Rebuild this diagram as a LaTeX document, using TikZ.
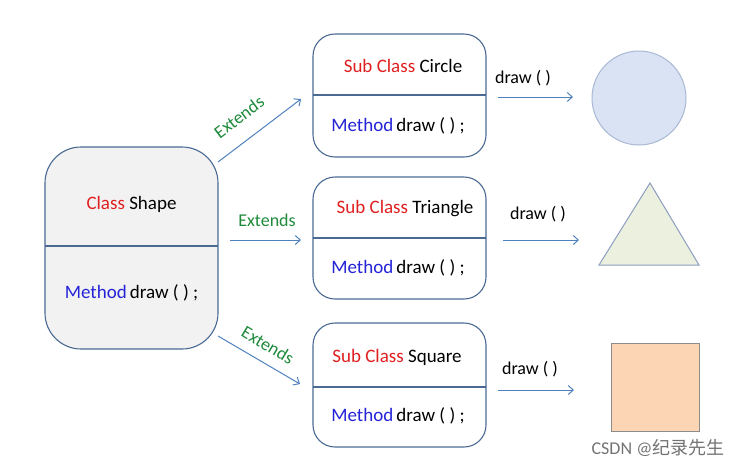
\documentclass[tikz,border=0pt]{standalone}
\usepackage{fontspec}
\setmainfont{Carlito}
\newfontfamily\cjk{Noto Sans CJK SC}
\usetikzlibrary{arrows.meta}
\definecolor{boxline}{HTML}{4A6A94}
\definecolor{arr}{HTML}{4F81BD}
\definecolor{cred}{HTML}{E02020}
\definecolor{cblue}{HTML}{2323D8}
\definecolor{cgreen}{HTML}{1E8A3A}
\definecolor{shapefill}{HTML}{F2F2F2}
\definecolor{circfill}{HTML}{DAE3F3}
\definecolor{circline}{HTML}{A8B8D4}
\definecolor{trifill}{HTML}{EBF1DE}
\definecolor{triline}{HTML}{8C9DBF}
\definecolor{sqfill}{HTML}{FCD5B5}
\definecolor{sqline}{HTML}{8C8C8C}
\tikzset{
  cls/.style={draw=boxline, line width=1.1pt, rounded corners=#1},
  lbl/.style={font=\fontsize{19}{21}\selectfont, inner sep=0pt, anchor=center},
  arrline/.style={draw=arr, line width=1pt, -{Straight Barb[length=5pt,width=9pt]}},
  ext/.style={font=\fontsize{18}{20}\selectfont, text=cgreen, inner sep=0pt},
  drw/.style={font=\fontsize{18}{20}\selectfont, inner sep=0pt},
}
\begin{document}
\begin{tikzpicture}[x=1pt,y=-1pt]
\useasboundingbox (0,0) rectangle (742,467);
% Shape class
\draw[cls=36, fill=shapefill] (45,147) rectangle (218,349);
\draw[draw=boxline, line width=1.1pt] (45,246) -- (218,246);
\node[lbl] (shapeT) at (131.5,204) {\textcolor{cred}{Class} Shape};
\node[lbl] (shapeM) at (131.5,293) {\textcolor{cblue}{Method}\,draw ( ) ;};
\coordinate (shapeA) at (218,162);
\coordinate (shapeB) at (230,240);
\coordinate (shapeC) at (218,336);
% Circle class
\draw[cls=22, fill=white] (313,34) rectangle (486,157);
\draw[draw=boxline, line width=1.1pt] (313,95) -- (486,95);
\node[lbl] (circT) at (403,66) {\textcolor{cred}{Sub Class} Circle};
\node[lbl] (circM) at (398,126) {\textcolor{cblue}{Method}\,draw ( ) ;};
\coordinate (circIn) at (301,99);
% Triangle class
\draw[cls=22, fill=white] (313,177) rectangle (486,299);
\draw[draw=boxline, line width=1.1pt] (313,238) -- (486,238);
\node[lbl] (triT) at (405,209) {\textcolor{cred}{Sub Class} Triangle};
\node[lbl] (triM) at (398,268) {\textcolor{cblue}{Method}\,draw ( ) ;};
\coordinate (triIn) at (301,240);
% Square class
\draw[cls=22, fill=white] (313,323) rectangle (486,447);
\draw[draw=boxline, line width=1.1pt] (313,387) -- (486,387);
\node[lbl] (sqT) at (397,357) {\textcolor{cred}{Sub Class} Square};
\node[lbl] (sqM) at (398,416) {\textcolor{cblue}{Method}\,draw ( ) ;};
\coordinate (sqIn) at (300,384);
% Extends arrows
\draw[arrline] (shapeA) -- (circIn);
\draw[arrline] (shapeB) -- (triIn);
\draw[arrline] (shapeC) -- (sqIn);
\node[ext, rotate=37] (e1) at (239,117) {Extends};
\node[ext] (e2) at (267,220) {Extends};
\node[ext, rotate=-31] (e3) at (268,345) {Extends};
% draw arrows
\coordinate (d1a) at (498,97); \coordinate (d1b) at (573,97);
\coordinate (d2a) at (503,240); \coordinate (d2b) at (579,240);
\coordinate (d3a) at (498,390); \coordinate (d3b) at (574,390);
\draw[arrline] (d1a) -- (d1b);
\draw[arrline] (d2a) -- (d2b);
\draw[arrline] (d3a) -- (d3b);
\node[drw] (l1) at (523,78) {draw ( )};
\node[drw] (l2) at (538,214) {draw ( )};
\node[drw] (l3) at (530,369) {draw ( )};
% shapes
\draw[fill=circfill, draw=circline, line width=1pt] (639,98) circle (47);
\draw[fill=trifill, draw=triline, line width=1pt] (650,183) -- (699,265) -- (599,265) -- cycle;
\draw[fill=sqfill, draw=sqline, line width=1pt] (611,343) rectangle (699,431);
% watermark
\node[inner sep=0pt, text=black!55, font=\fontsize{18}{20}\selectfont] (wm) at (658,448) {CSDN @{\cjk 纪录先生}};
\end{tikzpicture}
\end{document}
